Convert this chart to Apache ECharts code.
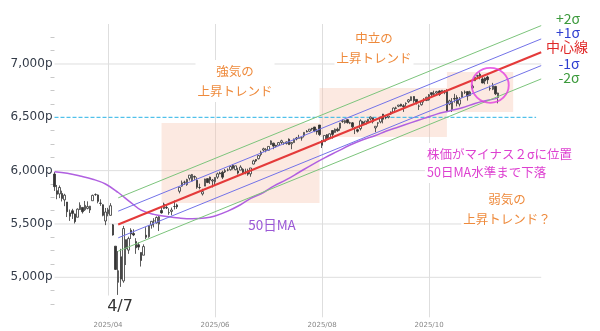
<!DOCTYPE html>
<html>
<head>
<meta charset="utf-8">
<script src="https://cdn.jsdelivr.net/npm/echarts@6/dist/echarts.min.js"></script>
<style>
html, body { margin: 0; padding: 0; background: #fff; }
#chart { width: 600px; height: 331px; }
</style>
</head>
<body>
<div id="chart"></div>
<script>
// daily candles: [date, open, close, low, high]
const candles = [
  ['2025-03-03',5968,5850,5810,5987],['2025-03-04',5812,5778,5732,5866],['2025-03-05',5782,5842,5742,5861],['2025-03-06',5786,5739,5711,5812],['2025-03-07',5726,5770,5667,5783],
  ['2025-03-10',5706,5615,5565,5706],['2025-03-11',5604,5572,5529,5636],['2025-03-12',5624,5599,5547,5642],['2025-03-13',5594,5522,5505,5598],['2025-03-14',5563,5639,5563,5646],
  ['2025-03-17',5635,5675,5631,5703],['2025-03-18',5655,5615,5598,5655],['2025-03-19',5633,5675,5622,5716],['2025-03-20',5646,5663,5637,5712],['2025-03-21',5631,5667,5603,5670],
  ['2025-03-24',5718,5768,5718,5775],['2025-03-25',5775,5777,5764,5786],['2025-03-26',5772,5712,5694,5777],['2025-03-27',5695,5693,5670,5732],['2025-03-28',5680,5581,5572,5685],
  ['2025-03-31',5528,5612,5489,5650],['2025-04-01',5597,5633,5572,5651],['2025-04-02',5581,5671,5578,5695],['2025-04-03',5492,5397,5391,5500],['2025-04-04',5292,5074,5069,5292],
  ['2025-04-07',4953,5062,4835,5246],['2025-04-08',5193,4983,4910,5267],['2025-04-09',4966,5457,4949,5482],['2025-04-10',5353,5268,5115,5353],['2025-04-11',5255,5363,5220,5381],
  ['2025-04-14',5441,5406,5359,5460],['2025-04-15',5411,5397,5386,5450],['2025-04-16',5335,5276,5220,5367],['2025-04-17',5305,5283,5255,5328],
  ['2025-04-21',5233,5158,5101,5233],['2025-04-22',5207,5288,5207,5309],['2025-04-23',5395,5376,5359,5470],['2025-04-24',5381,5485,5371,5489],['2025-04-25',5489,5525,5456,5528],
  ['2025-04-28',5529,5529,5468,5554],['2025-04-29',5509,5561,5505,5571],['2025-04-30',5499,5569,5434,5581],['2025-05-01',5626,5604,5597,5659],['2025-05-02',5645,5687,5639,5700],
  ['2025-05-05',5655,5650,5640,5683],['2025-05-06',5606,5607,5586,5647],['2025-05-07',5618,5631,5582,5654],['2025-05-08',5664,5664,5636,5720],['2025-05-09',5679,5660,5641,5691],
  ['2025-05-12',5807,5844,5787,5849],['2025-05-13',5855,5886,5849,5907],['2025-05-14',5890,5892,5866,5906],['2025-05-15',5869,5917,5858,5924],['2025-05-16',5929,5958,5908,5959],
  ['2025-05-19',5902,5964,5896,5969],['2025-05-20',5944,5940,5912,5954],['2025-05-21',5910,5845,5830,5938],['2025-05-22',5842,5842,5825,5878],['2025-05-23',5782,5803,5767,5830],
  ['2025-05-27',5855,5922,5855,5924],['2025-05-28',5925,5889,5883,5930],['2025-05-29',5939,5912,5876,5944],['2025-05-30',5903,5912,5843,5922],
  ['2025-06-02',5896,5936,5862,5937],['2025-06-03',5939,5970,5923,5982],['2025-06-04',5978,5971,5966,5991],['2025-06-05',5985,5939,5921,5999],['2025-06-06',5988,6000,5978,6016],
  ['2025-06-09',6005,6006,5994,6021],['2025-06-10',6009,6038,6000,6043],['2025-06-11',6050,6022,6010,6060],['2025-06-12',6009,6045,6004,6046],['2025-06-13',5997,5977,5964,6027],
  ['2025-06-16',6005,6033,6005,6050],['2025-06-17',6013,5982,5974,6023],['2025-06-18',5987,5981,5966,6019],['2025-06-20',5999,5967,5952,6018],
  ['2025-06-23',5970,6025,5943,6025],['2025-06-24',6062,6092,6059,6102],['2025-06-25',6104,6092,6080,6108],['2025-06-26',6112,6141,6105,6146],['2025-06-27',6151,6173,6133,6187],
  ['2025-06-30',6193,6205,6178,6215],['2025-07-01',6187,6198,6172,6211],['2025-07-02',6191,6227,6189,6227],['2025-07-03',6246,6279,6241,6284],
  ['2025-07-07',6258,6230,6201,6262],['2025-07-08',6237,6226,6217,6242],['2025-07-09',6239,6263,6232,6269],['2025-07-10',6264,6280,6250,6290],['2025-07-11',6255,6260,6242,6266],
  ['2025-07-14',6255,6269,6245,6273],['2025-07-15',6295,6244,6244,6302],['2025-07-16',6252,6264,6201,6266],['2025-07-17',6263,6297,6262,6300],['2025-07-18',6306,6297,6284,6316],
  ['2025-07-21',6304,6306,6303,6336],['2025-07-22',6306,6309,6281,6310],['2025-07-23',6326,6359,6311,6360],['2025-07-24',6368,6363,6360,6381],['2025-07-25',6370,6389,6364,6390],
  ['2025-07-28',6397,6390,6375,6401],['2025-07-29',6409,6371,6361,6410],['2025-07-30',6375,6362,6338,6392],['2025-07-31',6428,6339,6326,6428],['2025-08-01',6271,6238,6212,6288],
  ['2025-08-04',6272,6330,6272,6330],['2025-08-05',6337,6299,6282,6343],['2025-08-06',6309,6345,6303,6349],['2025-08-07',6376,6340,6300,6379],['2025-08-08',6358,6389,6357,6395],
  ['2025-08-11',6389,6374,6364,6404],['2025-08-12',6398,6446,6374,6447],['2025-08-13',6462,6466,6448,6481],['2025-08-14',6450,6469,6441,6473],['2025-08-15',6478,6450,6441,6482],
  ['2025-08-18',6446,6449,6436,6459],['2025-08-19',6448,6411,6397,6456],['2025-08-20',6406,6396,6343,6407],['2025-08-21',6384,6370,6357,6394],['2025-08-22',6394,6467,6377,6481],
  ['2025-08-25',6457,6439,6439,6466],['2025-08-26',6436,6465,6433,6466],['2025-08-27',6460,6481,6456,6485],['2025-08-28',6486,6502,6471,6509],['2025-08-29',6494,6460,6443,6497],
  ['2025-09-02',6401,6416,6361,6416],['2025-09-03',6445,6448,6412,6454],['2025-09-04',6457,6502,6444,6502],['2025-09-05',6530,6482,6443,6532],
  ['2025-09-08',6499,6495,6482,6508],['2025-09-09',6501,6512,6490,6513],['2025-09-10',6550,6532,6522,6555],['2025-09-11',6549,6587,6545,6592],['2025-09-12',6588,6584,6575,6600],
  ['2025-09-15',6604,6615,6595,6616],['2025-09-16',6623,6606,6601,6627],['2025-09-17',6608,6600,6551,6624],['2025-09-18',6627,6631,6600,6640],['2025-09-19',6647,6664,6635,6671],
  ['2025-09-22',6657,6693,6654,6695],['2025-09-23',6695,6656,6636,6698],['2025-09-24',6668,6638,6620,6670],['2025-09-25',6604,6605,6569,6620],['2025-09-26',6618,6644,6610,6652],
  ['2025-09-29',6661,6661,6640,6680],['2025-09-30',6658,6688,6652,6693],['2025-10-01',6664,6711,6656,6718],['2025-10-02',6731,6715,6693,6733],['2025-10-03',6722,6716,6708,6750],
  ['2025-10-06',6728,6740,6720,6748],['2025-10-07',6747,6714,6700,6754],['2025-10-08',6730,6753,6723,6754],['2025-10-09',6746,6735,6717,6755],['2025-10-10',6744,6553,6551,6764],
  ['2025-10-13',6625,6654,6614,6665],['2025-10-14',6571,6644,6550,6680],['2025-10-15',6677,6671,6638,6720],['2025-10-16',6686,6630,6603,6707],['2025-10-17',6624,6664,6602,6690],
  ['2025-10-20',6687,6735,6686,6745],['2025-10-21',6737,6735,6718,6752],['2025-10-22',6741,6699,6657,6745],['2025-10-23',6705,6738,6699,6749],['2025-10-24',6776,6792,6770,6807],
  ['2025-10-27',6843,6875,6840,6876],['2025-10-28',6886,6891,6869,6899],['2025-10-29',6904,6890,6856,6920],['2025-10-30',6860,6822,6819,6876],['2025-10-31',6868,6840,6810,6874],
  ['2025-11-03',6878,6852,6814,6890],['2025-11-04',6768,6771,6750,6797],['2025-11-05',6763,6796,6755,6823],['2025-11-06',6790,6720,6708,6795],['2025-11-07',6686,6728,6631,6731]
];
// empty trading days to the right of the last candle
const futureDates = ['2025-11-10','2025-11-11','2025-11-12','2025-11-13','2025-11-14','2025-11-17','2025-11-18','2025-11-19','2025-11-20','2025-11-21',
  '2025-11-24','2025-11-25','2025-11-26','2025-11-28','2025-12-01','2025-12-02','2025-12-03'];

// 50日MA
const ma50 = [
  ['2025-03-03',5990],['2025-03-10',5975],['2025-03-17',5950],['2025-03-24',5920],['2025-03-31',5875],['2025-04-07',5795],
  ['2025-04-14',5700],['2025-04-21',5630],['2025-04-28',5590],['2025-05-05',5570],['2025-05-12',5555],['2025-05-19',5548],
  ['2025-05-27',5555],['2025-06-02',5575],['2025-06-09',5620],['2025-06-16',5680],['2025-06-23',5740],['2025-06-30',5795],
  ['2025-07-07',5855],['2025-07-14',5915],['2025-07-21',5985],['2025-07-28',6055],['2025-08-04',6120],['2025-08-11',6180],
  ['2025-08-18',6240],['2025-08-25',6290],['2025-09-02',6330],['2025-09-08',6370],['2025-09-15',6410],['2025-09-22',6450],
  ['2025-09-29',6490],['2025-10-06',6530],['2025-10-13',6560],['2025-10-20',6590],['2025-10-27',6630],['2025-11-03',6660],['2025-11-07',6680]
];

// regression channel (center line from 4/7) and band width
const channelFrom = ['2025-04-07', 5495];
const channelTo = ['2025-12-03', 7110];
const sigma = 125;
const supportLevel = 6500;
const supportEnd = '2025-12-01';

const monthTicks = ['2025-04-01', '2025-06-02', '2025-08-01', '2025-10-01'];
const yMajor = [5000, 5500, 6000, 6500, 7000];
const yMinor = [4750, 4875, 5125, 5250, 5375, 5625, 5750, 5875, 6125, 6250, 6375, 6625, 6750, 6875, 7125, 7250];

// shaded phases: [from, top], [to, bottom]
const zones = [
  [['2025-05-01', 6447], ['2025-07-31', 5697]],
  [['2025-07-31', 6775], ['2025-10-10', 6316]],
  [['2025-10-10', 6925], ['2025-11-17', 6550]]
];
const circleAt = ['2025-11-04', 6800];

const dates = candles.map(c => c[0]).concat(futureDates);
const ohlc = candles.map(c => [c[1], c[2], c[3], c[4]]);
const lastDate = dates[dates.length - 1];

const band = k => [[channelFrom[0], channelFrom[1] + k * sigma], [channelTo[0], channelTo[1] + k * sigma]];
const isMonth = (i, v) => monthTicks.indexOf(v) >= 0;
const fmtP = v => String(v).replace(/\B(?=(\d{3})+(?!\d))/g, ',') + 'p';

const jp = '"Noto Sans CJK JP", sans-serif';
const orange = '#ee8a3c';
const green = '#7cc47c';
const blue = '#7272e8';

const txt = (text, x, y, fill, size, extra) => ({
  type: 'text', z: 100,
  style: Object.assign({
    text, x, y, fill, fontSize: size, fontFamily: jp,
    align: 'center', verticalAlign: 'middle', lineHeight: 20
  }, extra || {})
});
const boxed = { backgroundColor: '#fff', padding: [1, 2] };

// horizontal grid at the labelled prices (6,500 is the dashed support line instead)
const gridSeries = yMajor.filter(v => v !== supportLevel).map(v => ({
  type: 'line', z: 0, symbol: 'none', silent: true,
  data: [[dates[0], v], [lastDate, v]],
  lineStyle: { color: '#dedede', width: 1 }
}));

const chart = echarts.init(document.getElementById('chart'));
chart.setOption({
  animation: false,
  backgroundColor: '#fff',
  grid: { left: 54.5, right: 58.8, top: 24, bottom: 13.7 },
  xAxis: {
    type: 'category', data: dates, boundaryGap: false,
    axisLine: { show: false }, axisTick: { show: false },
    axisLabel: {
      interval: isMonth, formatter: v => v.slice(0, 7).replace('-', '/'),
      fontSize: 7, color: '#888', margin: 4, fontFamily: 'DejaVu Sans'
    },
    splitLine: { show: true, interval: isMonth, lineStyle: { color: '#dedede' } }
  },
  yAxis: {
    type: 'value', min: 4625, max: 7375, interval: 125, position: 'left',
    axisLine: { show: false },
    axisTick: { show: true, length: 4, customValues: yMinor, lineStyle: { color: '#c8c8c8' } },
    axisLabel: {
      customValues: yMajor, formatter: v => (v % 500 === 0 ? fmtP(v) : ''),
      color: '#333b48', fontSize: 12, fontFamily: 'DejaVu Sans', margin: 2
    },
    splitLine: { show: false }
  },
  series: gridSeries.concat([
    {
      name: 'support', type: 'line', z: 1, symbol: 'none', silent: true,
      data: [[dates[0], supportLevel], [supportEnd, supportLevel]],
      lineStyle: { color: '#2ab4e6', width: 1, type: [4, 2] },
      markArea: {
        silent: true,
        itemStyle: { color: 'rgba(248,196,176,0.38)' },
        data: zones.map(z => [{ coord: z[0] }, { coord: z[1] }])
      }
    },
    {
      name: 'price', type: 'candlestick', z: 2, data: ohlc, barWidth: 2,
      itemStyle: { color: '#fff', color0: '#333', borderColor: '#333', borderColor0: '#333', borderWidth: 0.8 }
    },
    {
      name: '50日MA', type: 'line', z: 3, symbol: 'none', smooth: 0.4, data: ma50,
      lineStyle: { color: '#b060e0', width: 1.5 }
    },
    { name: '+2σ', type: 'line', z: 4, symbol: 'none', data: band(2), lineStyle: { color: green, width: 1 } },
    { name: '+1σ', type: 'line', z: 4, symbol: 'none', data: band(1), lineStyle: { color: blue, width: 1 } },
    { name: '-1σ', type: 'line', z: 4, symbol: 'none', data: band(-1), lineStyle: { color: blue, width: 1 } },
    { name: '-2σ', type: 'line', z: 4, symbol: 'none', data: band(-2), lineStyle: { color: green, width: 1 } },
    { name: '中心線', type: 'line', z: 5, symbol: 'none', data: band(0), lineStyle: { color: '#e43a3a', width: 2 } },
    {
      name: 'circle', type: 'scatter', z: 6, data: [circleAt], symbol: 'circle', symbolSize: [37, 35],
      itemStyle: { color: 'transparent', borderColor: '#e23ce0', borderWidth: 1.8 }
    }
  ]),
  graphic: [
    txt('強気の\n上昇トレンド', 235, 81, orange, 12.5, boxed),
    txt('中立の\n上昇トレンド', 374, 48, orange, 12.5, boxed),
    txt('弱気の\n上昇トレンド？', 507, 209, orange, 12.5, boxed),
    txt('+2σ', 568, 19, '#3c9a3c', 14),
    txt('+1σ', 568, 33, '#2f3fd0', 14),
    txt('中心線', 567, 47, '#e02828', 14),
    txt('-1σ', 569, 64, '#2f3fd0', 14),
    txt('-2σ', 569, 78, '#3c9a3c', 14),
    txt('株価がマイナス２σに位置', 425, 154, '#dd3fd0', 12.5, Object.assign({ align: 'left' }, boxed)),
    txt('50日MA水準まで下落', 425, 172, '#dd3fd0', 12.5, Object.assign({ align: 'left' }, boxed)),
    txt('50日MA', 272, 225, '#9b58d6', 13.5),
    txt('4/7', 120, 306.5, '#333', 16, Object.assign({ fontFamily: 'DejaVu Sans, sans-serif' }, boxed))
  ]
});
</script>
</body>
</html>
